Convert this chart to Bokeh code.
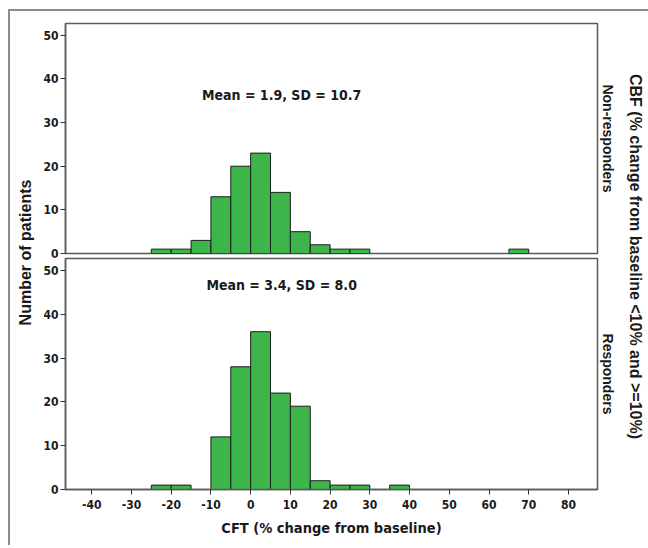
from math import pi
from bokeh.plotting import figure
from bokeh.models import Label, FixedTicker, Range1d, LinearAxis
from bokeh.layouts import row, column
from bokeh.embed import file_html
from bokeh.resources import INLINE

# ---- data ----
bin_width = 5
nonresp_left = [-25, -20, -15, -10, -5, 0, 5, 10, 15, 20, 25, 65]
nonresp_count = [1, 1, 3, 13, 20, 23, 14, 5, 2, 1, 1, 1]
resp_left = [-25, -20, -10, -5, 0, 5, 10, 15, 20, 25, 35]
resp_count = [1, 1, 12, 28, 36, 22, 19, 2, 1, 1, 1]
x_ticks = [-40, -30, -20, -10, 0, 10, 20, 30, 40, 50, 60, 70, 80]
y_ticks = [0, 10, 20, 30, 40, 50]
nonresp_stats = "Mean = 1.9, SD = 10.7"
resp_stats = "Mean = 3.4, SD = 8.0"

NARROW = "DejaVu Sans Condensed, Liberation Sans"
SANS = "Liberation Sans"
GREEN = "#3cb54a"
FRAME = "#5a5a5a"
INK = "#1a1a1a"


def panel(height, mbt, mbb, lefts, counts, stats, stats_y, side_text, show_x):
    p = figure(width=578, height=height, x_range=Range1d(-46.6, 87.3),
               y_range=Range1d(0, 52.7), output_backend="svg", toolbar_location=None,
               min_border_left=25, min_border_right=20, min_border_top=mbt,
               min_border_bottom=mbb)
    p.grid.visible = False
    p.outline_line_color = FRAME
    p.outline_line_width = 1.5
    p.background_fill_color = "white"
    p.border_fill_color = "white"
    rights = [l + bin_width for l in lefts]
    p.quad(left=lefts, right=rights, bottom=0, top=counts,
           fill_color=GREEN, line_color="#1c1c1c", line_width=1)
    ya = p.yaxis[0]
    ya.ticker = FixedTicker(ticks=y_ticks)
    ya.minor_tick_line_color = None
    ya.major_tick_out = 5
    ya.major_tick_in = 0
    ya.axis_line_color = FRAME
    ya.axis_line_width = 1.5
    ya.major_tick_line_color = "#333333"
    ya.major_label_text_font = NARROW
    ya.major_label_text_font_style = "bold"
    ya.major_label_text_font_size = "12px"
    ya.major_label_text_color = INK
    ya.major_label_standoff = 2
    xa = p.xaxis[0]
    if show_x:
        xa.ticker = FixedTicker(ticks=x_ticks)
        xa.major_label_overrides = {t: str(t) for t in x_ticks}
        xa.minor_tick_line_color = None
        xa.major_tick_out = 5
        xa.major_tick_in = 0
        xa.axis_line_color = FRAME
        xa.axis_line_width = 1.5
        xa.major_tick_line_color = "#333333"
        xa.major_label_text_font = NARROW
        xa.major_label_text_font_style = "bold"
        xa.major_label_text_font_size = "12px"
        xa.major_label_text_color = INK
        xa.major_label_standoff = 5
        xa.axis_label = "CFT (% change from baseline)"
        xa.axis_label_text_font = NARROW
        xa.axis_label_text_font_style = "bold"
        xa.axis_label_text_font_size = "14.5px"
        xa.axis_label_text_color = INK
        xa.axis_label_standoff = 8
    else:
        xa.visible = False
    # facet label on the right
    ra = LinearAxis(ticker=FixedTicker(ticks=[]), axis_label=side_text,
                    axis_line_color=None, major_tick_line_color=None,
                    minor_tick_line_color=None, axis_label_standoff=2,
                    axis_label_text_font=SANS, axis_label_text_font_style="bold",
                    axis_label_text_font_size="14px", axis_label_text_color=INK)
    p.add_layout(ra, "right")
    p.add_layout(Label(x=7.8, y=stats_y, text=stats, text_font=NARROW,
                       text_font_style="bold", text_font_size="14px",
                       text_color=INK, text_align="center",
                       text_baseline="middle"))
    return p


p1 = panel(251, 12, 9, nonresp_left, nonresp_count, nonresp_stats, 36.3,
           "Non-responders", False)
p2 = panel(288, 1, 56, resp_left, resp_count, resp_stats, 46.7,
           "Responders", True)
p2.border_fill_alpha = 0
p2.margin = (-5, 0, 0, 0)


def side(width, text, x, y, angle, size):
    f = figure(width=width, height=534, x_range=Range1d(0, 1), y_range=Range1d(0, 1),
               output_backend="svg", toolbar_location=None, min_border=0)
    f.axis.visible = False
    f.grid.visible = False
    f.outline_line_color = None
    f.border_fill_color = "white"
    f.add_layout(Label(x=x, y=y, x_units="screen", y_units="screen", text=text,
                       angle=angle, text_font=SANS, text_font_style="bold",
                       text_font_size=size, text_color=INK,
                       text_align="center", text_baseline="middle"))
    return f


left_fig = side(30, "Number of patients", 15, 293, pi / 2, "16px")
right_fig = side(30, "CBF (% change from baseline <10% and >=10%)", 17, 289,
                 -pi / 2, "16px")

lay = row(left_fig, column(p1, p2), right_fig, margin=(9, 0, 0, 8),
          styles={"border-left": "2px solid #8c8c8c", "border-top": "2px solid #8c8c8c"})

open("out.html", "w").write(file_html(lay, INLINE))
